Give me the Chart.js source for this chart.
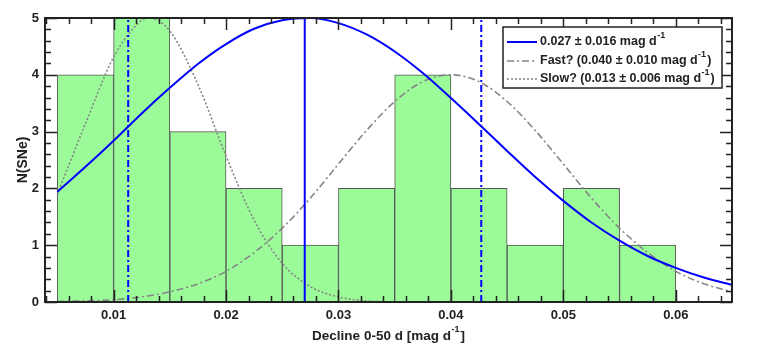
<!DOCTYPE html>
<html>
<head>
<meta charset="utf-8">
<script src="https://cdn.jsdelivr.net/npm/chart.js@4.4.1/dist/chart.umd.min.js"></script>
<style>
  html, body { margin: 0; padding: 0; background: #fff; }
  #wrap { width: 763px; height: 347px; }
</style>
</head>
<body>
<div id="wrap"><canvas id="declineChart" width="763" height="347"></canvas></div>
<script>
// histogram bins (width 0.005 mag/d), centres and counts
const binCenters = [0.0075, 0.0125, 0.0175, 0.0225, 0.0275, 0.0325, 0.0375, 0.0425, 0.0475, 0.0525, 0.0575];
const binCounts = [4, 5, 3, 2, 1, 2, 4, 2, 1, 2, 1];

// fitted curves
const curveX = [0.005, 0.0075, 0.010, 0.0125, 0.015, 0.0175, 0.020, 0.0225, 0.025, 0.0275, 0.030, 0.0325,
  0.035, 0.0375, 0.040, 0.0425, 0.045, 0.0475, 0.050, 0.0525, 0.055, 0.0575, 0.060, 0.0625, 0.065];
const allFit = [1.94, 2.38, 2.84, 3.32, 3.77, 4.19, 4.54, 4.81, 4.96, 5.00, 4.91, 4.71,
  4.41, 4.03, 3.59, 3.13, 2.66, 2.20, 1.78, 1.40, 1.08, 0.81, 0.60, 0.43, 0.30];
const fastFit = [0.01, 0.02, 0.04, 0.09, 0.18, 0.32, 0.54, 0.87, 1.30, 1.83, 2.43, 3.02,
  3.53, 3.88, 4.00, 3.88, 3.53, 3.02, 2.43, 1.83, 1.30, 0.87, 0.54, 0.32, 0.18];
const slowX = [0.005, 0.0075, 0.010, 0.0125, 0.0132, 0.015, 0.0175, 0.020, 0.0225, 0.025, 0.0275, 0.030,
  0.0325, 0.035, 0.040, 0.045, 0.050, 0.055, 0.060, 0.065];
const slowFit = [1.90, 3.14, 4.31, 4.96, 5.00, 4.77, 3.83, 2.57, 1.44, 0.68, 0.27, 0.09,
  0.02, 0.00, 0.00, 0.00, 0.00, 0.00, 0.00, 0.00];

// mean and mean +/- sigma markers
const meanDecline = 0.027;
const sigmaBounds = [0.0113, 0.0427];

// minor tick marks on the x axis (labels only every 0.01)
const xMinorTicks = [0.004, 0.006, 0.008, 0.010, 0.012, 0.014, 0.016, 0.018, 0.020, 0.022, 0.024, 0.026,
  0.028, 0.030, 0.032, 0.034, 0.036, 0.038, 0.040, 0.042, 0.044, 0.046, 0.048, 0.050, 0.052, 0.054,
  0.056, 0.058, 0.060, 0.062, 0.064];

const legendText = [
  ["0.027 \u00b1 0.016 mag d", "-1", ""],
  ["Fast? (0.040 \u00b1 0.010 mag d", "-1", ")"],
  ["Slow? (0.013 \u00b1 0.006 mag d", "-1", ")"]
];

const FONT = "'Liberation Sans', Arial, Helvetica, sans-serif";
const INK = "#222";
const BLUE = "#0000ff";
const GRAY = "#858585";
const DASHDOT = [7, 3, 2, 3];

function pairs(xs, ys) {
  return xs.map((x, i) => ({ x: x, y: ys[i] }));
}

function vline(x) {
  return [{ x: x, y: 0 }, { x: x, y: 5 }];
}

// text with a superscript part
function drawSup(ctx, parts, x, y, size, align) {
  const base = "bold " + size + "px " + FONT;
  const small = "bold " + Math.round(size * 0.68) + "px " + FONT;
  ctx.font = base;
  const w1 = ctx.measureText(parts[0]).width;
  const w3 = ctx.measureText(parts[2]).width;
  ctx.font = small;
  const w2 = ctx.measureText(parts[1]).width;
  const total = w1 + w2 + w3 + 1.5;
  const x0 = align === "center" ? x - total / 2 : x;
  ctx.textAlign = "left";
  ctx.textBaseline = "middle";
  ctx.font = base;
  ctx.fillText(parts[0], x0, y);
  ctx.font = small;
  ctx.fillText(parts[1], x0 + w1 + 0.5, y - size * 0.48);
  ctx.font = base;
  ctx.fillText(parts[2], x0 + w1 + w2 + 1.5, y);
}

const framePlugin = {
  id: "frame",
  afterDraw(chart) {
    const ctx = chart.ctx;
    const area = chart.chartArea;
    const xs = chart.scales.x;
    const ys = chart.scales.y;
    ctx.save();

    // inward ticks on all four sides
    ctx.strokeStyle = INK;
    ctx.lineWidth = 1.5;
    ctx.beginPath();
    xMinorTicks.forEach((v) => {
      const px = Math.round(xs.getPixelForValue(v)) + 0.5;
      const major = Math.round(v * 1000) % 10 === 0;
      const len = major ? 12 : 6;
      ctx.moveTo(px, area.bottom);
      ctx.lineTo(px, area.bottom - len);
      ctx.moveTo(px, area.top);
      ctx.lineTo(px, area.top + len);
    });
    ys.ticks.forEach((t) => {
      const py = Math.round(ys.getPixelForValue(t.value)) + 0.5;
      const major = Math.abs(t.value - Math.round(t.value)) < 1e-6;
      const len = major ? 12 : 6;
      ctx.moveTo(area.left, py);
      ctx.lineTo(area.left + len, py);
      ctx.moveTo(area.right, py);
      ctx.lineTo(area.right - len, py);
    });
    ctx.stroke();

    // axes box
    ctx.lineWidth = 2;
    ctx.strokeRect(area.left, area.top, area.right - area.left, area.bottom - area.top);

    // legend
    const bx = 503, by = 27, bw = 219, bh = 61;
    ctx.fillStyle = "#fff";
    ctx.fillRect(bx, by, bw, bh);
    ctx.lineWidth = 1.5;
    ctx.strokeStyle = INK;
    ctx.strokeRect(bx, by, bw, bh);
    const rows = [42, 61, 79];
    const ds = chart.data.datasets;
    [1, 2, 3].forEach((di, i) => {
      const d = ds[di];
      ctx.strokeStyle = d.borderColor;
      ctx.lineWidth = d.borderWidth;
      ctx.setLineDash(d.borderDash || []);
      ctx.beginPath();
      ctx.moveTo(507, rows[i]);
      ctx.lineTo(537, rows[i]);
      ctx.stroke();
      ctx.setLineDash([]);
      ctx.fillStyle = INK;
      drawSup(ctx, legendText[i], 540, rows[i], 12.5, "left");
    });

    // axis titles
    ctx.fillStyle = INK;
    drawSup(ctx, ["Decline 0-50 d [mag d", "-1", "]"], (area.left + area.right) / 2, 336, 13.5, "center");

    ctx.font = "bold 14px " + FONT;
    ctx.translate(23, (area.top + area.bottom) / 2);
    ctx.rotate(-Math.PI / 2);
    ctx.textAlign = "center";
    ctx.textBaseline = "middle";
    ctx.fillText("N(SNe)", 0, 0);
    ctx.restore();
  }
};

function init() {
  new Chart(document.getElementById("declineChart"), {
    type: "bar",
    data: {
      datasets: [
        {
          type: "bar",
          data: pairs(binCenters, binCounts),
          backgroundColor: "#9cfb99",
          borderColor: "#555",
          borderWidth: 1,
          barPercentage: 1,
          categoryPercentage: 1,
          order: 10
        },
        {
          type: "line",
          data: pairs(curveX, allFit),
          borderColor: BLUE,
          borderWidth: 2,
          pointRadius: 0,
          cubicInterpolationMode: "monotone",
          order: 2
        },
        {
          type: "line",
          data: pairs(curveX, fastFit),
          borderColor: GRAY,
          borderWidth: 1.6,
          borderDash: DASHDOT,
          pointRadius: 0,
          cubicInterpolationMode: "monotone",
          order: 3
        },
        {
          type: "line",
          data: pairs(slowX, slowFit),
          borderColor: GRAY,
          borderWidth: 1.6,
          borderDash: [2, 2],
          pointRadius: 0,
          cubicInterpolationMode: "monotone",
          order: 3
        },
        {
          type: "line",
          data: vline(meanDecline),
          borderColor: BLUE,
          borderWidth: 2,
          pointRadius: 0,
          order: 1
        },
        {
          type: "line",
          data: vline(sigmaBounds[0]),
          borderColor: BLUE,
          borderWidth: 2,
          borderDash: DASHDOT,
          pointRadius: 0,
          order: 1
        },
        {
          type: "line",
          data: vline(sigmaBounds[1]),
          borderColor: BLUE,
          borderWidth: 2,
          borderDash: DASHDOT,
          pointRadius: 0,
          order: 1
        }
      ]
    },
    options: {
      responsive: false,
      animation: false,
      layout: { padding: { left: 0, right: 31, top: 18, bottom: 0 } },
      plugins: {
        legend: { display: false },
        tooltip: { enabled: false }
      },
      scales: {
        x: {
          type: "linear",
          min: 0.0039,
          max: 0.065,
          offset: false,
          grid: { display: false, drawTicks: false },
          border: { display: false },
          ticks: {
            stepSize: 0.01,
            includeBounds: false,
            autoSkip: false,
            maxRotation: 0,
            padding: 6,
            color: INK,
            font: { family: FONT, size: 13, weight: "bold" },
            callback: (v) => v.toFixed(2)
          },
          afterFit: (scale) => { scale.height = 45; }
        },
        y: {
          min: 0,
          max: 5,
          grid: { display: false, drawTicks: false },
          border: { display: false },
          ticks: {
            stepSize: 0.2,
            autoSkip: false,
            padding: 6,
            color: INK,
            font: { family: FONT, size: 13, weight: "bold" },
            callback: (v) => (Math.abs(v - Math.round(v)) < 1e-6 ? String(Math.round(v)) : "")
          },
          afterFit: (scale) => { scale.width = 45; }
        }
      }
    },
    plugins: [framePlugin]
  });
}

document.addEventListener("DOMContentLoaded", init);
</script>
</body>
</html>
